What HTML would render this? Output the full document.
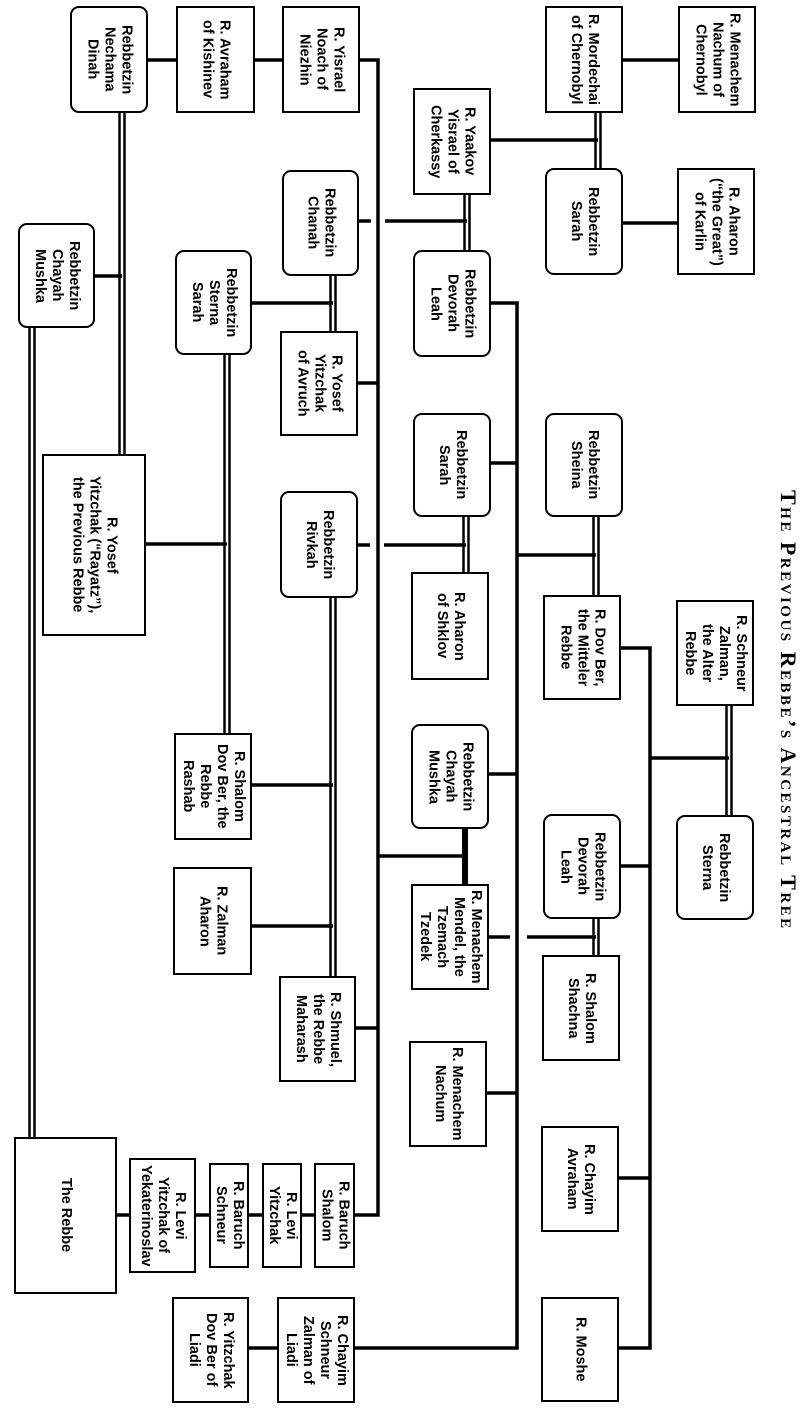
<!DOCTYPE html>
<html><head><meta charset="utf-8"><style>
html,body{margin:0;padding:0;background:#fff;}
body{width:802px;height:1413px;position:relative;overflow:hidden;font-family:"Liberation Sans",Arial,sans-serif;}
svg{position:absolute;left:0;top:0;}
.b{position:absolute;box-sizing:border-box;border:2.5px solid #000;background:#fff;display:flex;align-items:center;justify-content:center;writing-mode:vertical-rl;text-align:center;font-weight:bold;font-size:14.5px;line-height:17px;color:#000;white-space:nowrap;overflow:visible;}
.r{border-radius:9px;}
.t{position:absolute;left:774px;top:470px;width:28px;height:480px;display:flex;align-items:center;justify-content:center;writing-mode:vertical-rl;font-family:"Liberation Serif",serif;font-weight:bold;font-variant:small-caps;font-size:22px;letter-spacing:2.5px;text-align:center;white-space:nowrap;line-height:28px;}
</style></head><body>
<svg width="802" height="1413" viewBox="0 0 802 1413">
<g fill="none" stroke="#000" stroke-width="3.5">
<path d="M148,60H176M255,60H282M360,60H378V1215H355"/>
<path d="M623,60H678M491,140H598M623,223H678M359,221H371M385,221H467M95,276H122M252,303H333"/>
<path d="M491,303H517V1348H355M358,383H378M491,463H517M358,545H370M384,545H466M517,555H596"/>
<path d="M621,648H650V1348H619M651,758H729M146,544H227M252,785H333M252,926H333M489,774H517M378,856H465"/>
<path d="M621,866H650M489,937H510M527,937H596M487,1093H517M619,1178H650M356,1028H378"/>
<path d="M117,1215H129M196,1215H209M249,1215H262M302,1215H314M249,1348H277"/>
</g>
<g stroke="#000" stroke-width="2.5">
<path d="M595.5,113V168M600.5,113V168"/>
<path d="M464.5,195V250M469.5,195V250"/>
<path d="M119.5,113V454M124.5,113V454"/>
<path d="M29.5,328V1137M34.5,328V1137"/>
<path d="M330.5,276V331M335.5,276V331"/>
<path d="M224.5,355V733M229.5,355V733"/>
<path d="M463.5,517V572M468.5,517V572"/>
<path d="M593.5,517V595M598.5,517V595"/>
<path d="M726.5,706V815M731.5,706V815"/>
<path d="M330.5,598V976M335.5,598V976"/>
<path d="M593.5,919V955M598.5,919V955"/>
</g>
<path d="M465,829V884" stroke="#000" stroke-width="6"/>
</svg>

<div class="b r" style="left:70px;top:6px;width:78px;height:107px">Rebbetzin<br>Nechama<br>Dinah</div>
<div class="b" style="left:176px;top:6px;width:79px;height:107px">R. Avraham<br>of Kishinev</div>
<div class="b" style="left:282px;top:6px;width:78px;height:107px">R. Yisrael<br>Noach of<br>Niezhin</div>
<div class="b" style="left:545px;top:6px;width:78px;height:107px">R. Mordechai<br>of Chernobyl</div>
<div class="b" style="left:678px;top:6px;width:78px;height:107px">R. Menachem<br>Nachum of<br>Chernobyl</div>
<div class="b" style="left:413px;top:88px;width:78px;height:107px">R. Yaakov<br>Yisrael of<br>Cherkassy</div>
<div class="b r" style="left:545px;top:168px;width:78px;height:107px">Rebbetzin<br>Sarah</div>
<div class="b" style="left:677px;top:168px;width:78px;height:107px">R. Aharon<br>(“the Great”)<br>of Karlin</div>
<div class="b r" style="left:282px;top:170px;width:77px;height:106px">Rebbetzin<br>Chanah</div>
<div class="b r" style="left:18px;top:223px;width:77px;height:105px">Rebbetzin<br>Chayah<br>Mushka</div>
<div class="b r" style="left:413px;top:250px;width:78px;height:107px">Rebbetzin<br>Devorah<br>Leah</div>
<div class="b r" style="left:175px;top:250px;width:77px;height:105px">Rebbetzin<br>Sterna<br>Sarah</div>
<div class="b" style="left:280px;top:331px;width:78px;height:105px">R. Yosef<br>Yitzchak<br>of Avruch</div>
<div class="b" style="left:42px;top:454px;width:104px;height:182px">R. Yosef<br>Yitzchak (“Rayatz”),<br>the Previous Rebbe</div>
<div class="b r" style="left:413px;top:413px;width:78px;height:104px">Rebbetzin<br>Sarah</div>
<div class="b r" style="left:545px;top:413px;width:78px;height:104px">Rebbetzin<br>Sheina</div>
<div class="b r" style="left:280px;top:491px;width:78px;height:107px">Rebbetzin<br>Rivkah</div>
<div class="b" style="left:411px;top:572px;width:78px;height:108px">R. Aharon<br>of Shklov</div>
<div class="b" style="left:543px;top:595px;width:78px;height:105px">R. Dov Ber,<br>the Mitteler<br>Rebbe</div>
<div class="b" style="left:676px;top:600px;width:78px;height:106px">R. Schneur<br>Zalman,<br>the Alter<br>Rebbe</div>
<div class="b" style="left:174px;top:733px;width:78px;height:107px">R. Shalom<br>Dov Ber, the<br>Rebbe<br>Rashab</div>
<div class="b r" style="left:411px;top:724px;width:78px;height:105px">Rebbetzin<br>Chayah<br>Mushka</div>
<div class="b r" style="left:543px;top:814px;width:78px;height:105px">Rebbetzin<br>Devorah<br>Leah</div>
<div class="b r" style="left:676px;top:815px;width:78px;height:105px">Rebbetzin<br>Sterna</div>
<div class="b" style="left:173px;top:867px;width:79px;height:108px">R. Zalman<br>Aharon</div>
<div class="b" style="left:411px;top:884px;width:78px;height:106px">R. Menachem<br>Mendel, the<br>Tzemach<br>Tzedek</div>
<div class="b" style="left:542px;top:955px;width:78px;height:106px">R. Shalom<br>Shachna</div>
<div class="b" style="left:279px;top:976px;width:77px;height:106px">R. Shmuel,<br>the Rebbe<br>Maharash</div>
<div class="b" style="left:409px;top:1041px;width:78px;height:106px">R. Menachem<br>Nachum</div>
<div class="b" style="left:541px;top:1126px;width:78px;height:106px">R. Chayim<br>Avraham</div>
<div class="b" style="left:541px;top:1297px;width:78px;height:105px">R. Moshe</div>
<div class="b" style="left:14px;top:1137px;width:103px;height:157px">The Rebbe</div>
<div class="b" style="left:129px;top:1158px;width:67px;height:115px">R. Levi<br>Yitzchak of<br>Yekaterinoslav</div>
<div class="b" style="left:209px;top:1163px;width:40px;height:105px">R. Baruch<br>Schneur</div>
<div class="b" style="left:262px;top:1163px;width:40px;height:105px">R. Levi<br>Yitzchak</div>
<div class="b" style="left:314px;top:1163px;width:41px;height:105px">R. Baruch<br>Shalom</div>
<div class="b" style="left:172px;top:1297px;width:77px;height:106px">R. Yitzchak<br>Dov Ber of<br>Liadi</div>
<div class="b" style="left:277px;top:1297px;width:78px;height:106px">R. Chayim<br>Schneur<br>Zalman of<br>Liadi</div>

<div class="t">The Previous Rebbe’s Ancestral Tree</div>
</body></html>
